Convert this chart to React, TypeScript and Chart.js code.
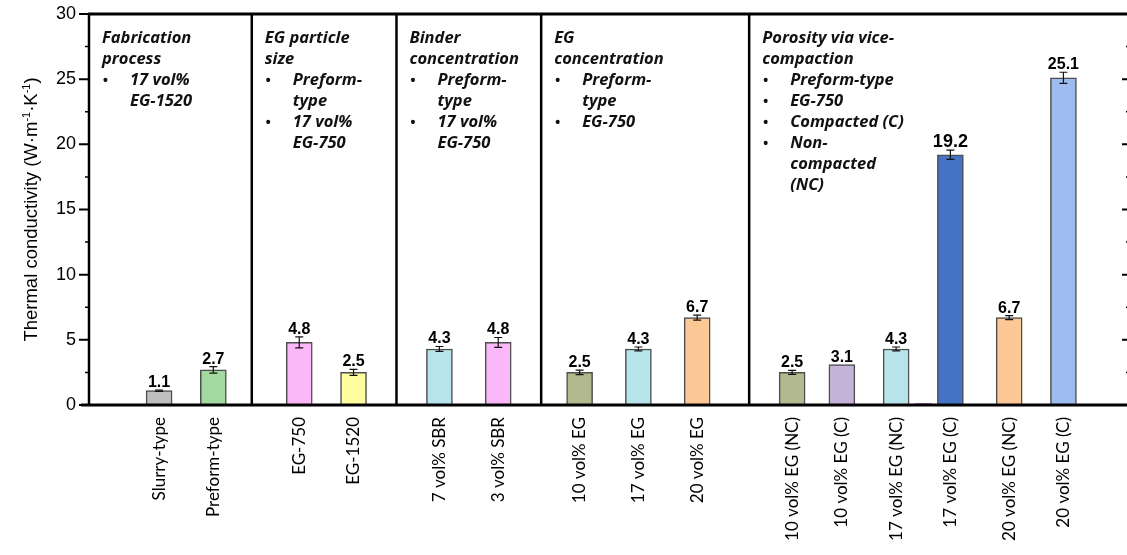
import React, { useEffect, useRef } from "react";
import { Chart, registerables } from "chart.js";

Chart.register(...registerables);

// ---------------- DATA ----------------
const categories = [
  "Slurry-type",
  "Preform-type",
  "EG-750",
  "EG-1520",
  "7 vol% SBR",
  "3 vol% SBR",
  "10 vol% EG",
  "17 vol% EG",
  "20 vol% EG",
  "10 vol% EG (NC)",
  "10 vol% EG (C)",
  "17 vol% EG (NC)",
  "17 vol% EG (C)",
  "20 vol% EG (NC)",
  "20 vol% EG (C)",
];
const conductivity = [1.1, 2.7, 4.8, 2.5, 4.3, 4.8, 2.5, 4.3, 6.7, 2.5, 3.1, 4.3, 19.2, 6.7, 25.1];
const conductivityError = [0.05, 0.25, 0.42, 0.23, 0.19, 0.38, 0.17, 0.15, 0.19, 0.15, 0, 0.15, 0.35, 0.15, 0.43];
const valueLabels = ["1.1", "2.7", "4.8", "2.5", "4.3", "4.8", "2.5", "4.3", "6.7", "2.5", "3.1", "4.3", "19.2", "6.7", "25.1"];
const strayValue = [0.12]; // thin residual bar between 17 vol% EG (NC) and (C)
const yTicks = [0, 5, 10, 15, 20, 25, 30];
const yTitle = ["Thermal conductivity (W·m", "-1", "·K", "-1", ")"];

const groupHeadings = [
  ["Fabrication", "process"],
  ["EG particle", "size"],
  ["Binder", "concentration"],
  ["EG", "concentration"],
  ["Porosity via vice-", "compaction"],
];
const groupBullets = [
  [["17 vol%", "EG-1520"]],
  [["Preform-", "type"], ["17 vol%", "EG-750"]],
  [["Preform-", "type"], ["17 vol%", "EG-750"]],
  [["Preform-", "type"], ["EG-750"]],
  [["Preform-type"], ["EG-750"], ["Compacted (C)"], ["Non-", "compacted", "(NC)"]],
];

// ---------------- LAYOUT / STYLE ----------------
const SLOT_COUNT = 230;
const barSlots = [15, 27, 46, 58, 77, 90, 108, 121, 134, 155, 166, 178, 190, 203, 215];
const straySlot = 184;
const separatorSlots = [36, 68, 100, 146];
const barColors = [
  "#bfbfbf", "#a3d9a0", "#fbb8f8", "#fefea0", "#b7e4ea", "#fbb8f8",
  "#b3b98f", "#b7e4ea", "#fbc896", "#b3b98f", "#c4b2d8", "#b7e4ea",
  "#4472c4", "#fbc896", "#9dbcf0",
];
const labelSizes = [16, 16, 16, 16, 16, 16, 16, 16, 16, 16, 16, 16, 18, 16, 16];

const SANS = "'Liberation Sans', Arial, 'DejaVu Sans', sans-serif";
const ANN = "'Open Sans', 'Noto Sans', sans-serif";
const XLAB = "Lato, 'Open Sans', sans-serif";

const slotLabels: string[] = Array(SLOT_COUNT).fill("");
const slotValues: (number | null)[] = Array(SLOT_COUNT).fill(null);
const slotColors: string[] = Array(SLOT_COUNT).fill("#fff");
barSlots.forEach((s, i) => {
  slotLabels[s] = categories[i];
  slotValues[s] = conductivity[i];
  slotColors[s] = barColors[i];
});
const strayValues: (number | null)[] = Array(SLOT_COUNT).fill(null);
strayValues[straySlot] = strayValue[0];

const zeroPad = (scale: any) => {
  scale.paddingLeft = 0;
  scale.paddingRight = 0;
  scale.paddingTop = 0;
  scale.paddingBottom = 0;
};

const decorPlugin = {
  id: "decor",
  afterDatasetsDraw(chart: any) {
    const { ctx, chartArea: ca, scales } = chart;
    const xs = scales.x;
    const ys = scales.y;
    const slotW = xs.getPixelForValue(1) - xs.getPixelForValue(0);
    const boundary = (k: number) => xs.getPixelForValue(k) - slotW / 2;

    ctx.save();
    ctx.strokeStyle = "#000";
    ctx.lineCap = "butt";

    // left ticks (outside) and right ticks (inside)
    for (let v = 0; v <= 30; v += 2.5) {
      const py = ys.getPixelForValue(v);
      const major = v % 5 === 0;
      ctx.lineWidth = major ? 2 : 1.5;
      ctx.beginPath();
      ctx.moveTo(ca.left - (major ? 10 : 4), py);
      ctx.lineTo(ca.left, py);
      ctx.moveTo(ca.right, py);
      ctx.lineTo(ca.right - (major ? 7 : 3), py);
      ctx.stroke();
    }

    // frame
    ctx.lineWidth = 3;
    ctx.beginPath();
    ctx.moveTo(ca.left - 1, ca.top);
    ctx.lineTo(ca.right, ca.top);
    ctx.moveTo(ca.left - 8, ca.bottom);
    ctx.lineTo(ca.right, ca.bottom);
    ctx.stroke();
    ctx.lineWidth = 2.5;
    ctx.beginPath();
    ctx.moveTo(ca.left, ca.top);
    ctx.lineTo(ca.left, ca.bottom);
    ctx.stroke();

    // group separators
    const sepX = separatorSlots.map(boundary);
    ctx.lineWidth = 2.5;
    sepX.forEach((sx) => {
      ctx.beginPath();
      ctx.moveTo(sx, ca.top);
      ctx.lineTo(sx, ca.bottom);
      ctx.stroke();
    });

    // error bars + value labels
    barSlots.forEach((s, i) => {
      const cx = xs.getPixelForValue(s);
      const v = conductivity[i];
      const e = conductivityError[i];
      const top = ys.getPixelForValue(v + e);
      const bot = ys.getPixelForValue(v - e);
      if (e > 0) {
        ctx.lineWidth = 1.2;
        ctx.strokeStyle = "#111";
        ctx.beginPath();
        ctx.moveTo(cx, top);
        ctx.lineTo(cx, bot);
        ctx.moveTo(cx - 4, top);
        ctx.lineTo(cx + 4, top);
        ctx.moveTo(cx - 4, bot);
        ctx.lineTo(cx + 4, bot);
        ctx.stroke();
      }
      ctx.fillStyle = "#000";
      ctx.font = `bold ${labelSizes[i]}px ${SANS}`;
      ctx.textAlign = "center";
      ctx.textBaseline = "alphabetic";
      ctx.fillText(valueLabels[i], cx, Math.min(top, ys.getPixelForValue(v)) - 3);
    });

    // group annotations
    const lefts = [ca.left, ...sepX];
    ctx.fillStyle = "#111";
    ctx.textAlign = "left";
    ctx.textBaseline = "alphabetic";
    const baseline = (n: number) => ca.top + 29 + 21 * n;
    groupHeadings.forEach((heading, gi) => {
      const tx = lefts[gi] + 13;
      let line = 0;
      ctx.font = `italic bold 16.5px ${ANN}`;
      heading.forEach((t) => {
        ctx.fillText(t, tx, baseline(line));
        line++;
      });
      groupBullets[gi].forEach((item) => {
        ctx.font = `bold 14px ${SANS}`;
        ctx.fillText("•", tx + 1, baseline(line));
        ctx.font = `italic bold 16.5px ${ANN}`;
        item.forEach((t) => {
          ctx.fillText(t, tx + 28, baseline(line));
          line++;
        });
      });
    });

    // y axis title with superscripts
    ctx.save();
    const midY = (ca.top + ca.bottom) / 2;
    ctx.translate(37, midY);
    ctx.rotate(-Math.PI / 2);
    const normal = `18.5px ${SANS}`;
    const sup = `11px ${SANS}`;
    const widths = yTitle.map((t, i) => {
      ctx.font = i % 2 === 1 ? sup : normal;
      return ctx.measureText(t).width;
    });
    const total = widths.reduce((a, b) => a + b, 0);
    let px = -total / 2;
    ctx.fillStyle = "#000";
    ctx.textAlign = "left";
    yTitle.forEach((t, i) => {
      const isSup = i % 2 === 1;
      ctx.font = isSup ? sup : normal;
      ctx.fillText(t, px, isSup ? -7 : 0);
      px += widths[i];
    });
    ctx.restore();

    ctx.restore();
  },
};

export default function App() {
  const ref = useRef<HTMLCanvasElement | null>(null);

  useEffect(() => {
    if (!ref.current) return;
    const chart = new Chart(ref.current, {
      type: "bar",
      data: {
        labels: slotLabels,
        datasets: [
          {
            data: slotValues,
            backgroundColor: slotColors,
            borderColor: "#4d4d4d",
            borderWidth: 1.5,
            barThickness: 26,
            grouped: false,
          },
          {
            data: strayValues,
            backgroundColor: "#d49be0",
            borderColor: "#c080d0",
            borderWidth: 1,
            barThickness: 17,
            grouped: false,
          },
        ],
      },
      options: {
        responsive: false,
        animation: false,
        devicePixelRatio: 1,
        layout: { padding: { top: 14, left: 0, right: 0, bottom: 0 } },
        plugins: {
          legend: { display: false },
          tooltip: { enabled: false },
        },
        scales: {
          x: {
            type: "category",
            grid: { display: false, drawTicks: false },
            border: { display: false },
            ticks: {
              autoSkip: false,
              maxRotation: 90,
              minRotation: 90,
              padding: 12,
              color: "#000",
              font: { family: XLAB, size: 17 },
            },
            afterFit: (scale: any) => {
              scale.height = 150;
              zeroPad(scale);
            },
          },
          y: {
            min: 0,
            max: 30,
            afterBuildTicks: (scale: any) => {
              scale.ticks = yTicks.map((v) => ({ value: v }));
            },
            grid: { display: false, drawTicks: false },
            border: { display: false },
            ticks: {
              padding: 13,
              color: "#000",
              font: { family: SANS, size: 18 },
            },
            title: { display: false },
            afterFit: (scale: any) => {
              scale.width = 89;
              zeroPad(scale);
            },
          },
        },
      },
      plugins: [decorPlugin],
    });
    return () => chart.destroy();
  }, []);

  return (
    <div
      style={{
        position: "fixed",
        left: 0,
        top: 0,
        width: 1127,
        height: 555,
        overflow: "hidden",
        background: "#fff",
      }}
    >
      <canvas ref={ref} width={1129} height={555} style={{ display: "block", width: 1129, height: 555 }} />
    </div>
  );
}
